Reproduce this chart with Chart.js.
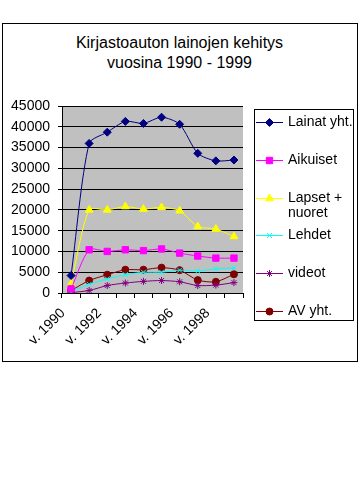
<!DOCTYPE html>
<html>
<head>
<meta charset="utf-8">
<style>
  html, body { margin: 0; padding: 0; background: #fff; }
  #wrap { position: relative; width: 360px; height: 504px; }
  #frame { position: absolute; left: 2px; top: 23px; width: 356px; height: 339px; border: 1px solid #000; box-sizing: border-box; }
  #title { position: absolute; left: 2px; width: 355px; top: 33px; text-align: center; font: 16px "Liberation Sans", Arial, sans-serif; line-height: 20px; color: #000; }
  canvas { position: absolute; left: 0; top: 0; }
</style>
<script src="https://cdn.jsdelivr.net/npm/chart.js"></script>
</head>
<body>
<div id="wrap">
  <div id="frame"></div>
  <div id="title">Kirjastoauton lainojen kehitys<br>vuosina 1990 - 1999</div>
  <canvas id="lainatChart" width="360" height="504"></canvas>
</div>
<script>
// Data
const years = ["v. 1990", "v. 1991", "v. 1992", "v. 1993", "v. 1994", "v. 1995", "v. 1996", "v. 1997", "v. 1998", "v. 1999"]
const seriesNames = ["Lainat yht.", "Aikuiset", "Lapset + nuoret", "Lehdet", "videot", "AV yht."]
const lainatYht = [4200, 36000, 38700, 41300, 40800, 42300, 40600, 33600, 31800, 32000]
const aikuiset = [1000, 10400, 10000, 10400, 10200, 10600, 9600, 8900, 8400, 8400]
const lapsetNuoret = [2200, 20000, 20000, 20800, 20200, 20600, 19800, 16000, 15400, 13600]
const lehdet = [300, 2100, 3400, 4400, 5000, 5000, 5500, 5300, 5800, 6000]
const videot = [100, 600, 1800, 2400, 2800, 3000, 2700, 1800, 1900, 2500]
const avYht = [600, 3000, 4400, 5600, 5600, 6100, 5500, 3100, 2700, 4500]
const yTicks = [0, 5000, 10000, 15000, 20000, 25000, 30000, 35000, 40000, 45000]

const FONT = '"Liberation Sans", Arial, sans-serif'

function makeSet(label, data, color, pointStyle, radius) {
  return {
    label: label,
    data: data,
    borderColor: color,
    backgroundColor: color,
    pointBackgroundColor: color,
    pointBorderColor: color,
    pointStyle: pointStyle,
    pointRadius: radius,
    pointBorderWidth: 1,
    borderWidth: 1,
    tension: 0.25,
  }
}

// gray plot area
const plotBg = {
  id: "plotBg",
  beforeDraw(chart) {
    const a = chart.chartArea
    const ctx = chart.ctx
    ctx.save()
    ctx.fillStyle = "#c0c0c0"
    ctx.fillRect(a.left, a.top, a.right - a.left, a.bottom - a.top)
    ctx.restore()
  },
}

// boxed legend on the right, drawn from the datasets
const legendBox = {
  id: "legendBox",
  afterDraw(chart) {
    const ctx = chart.ctx
    const left = 254, top = 109, right = 353, bottom = 320
    ctx.save()
    ctx.strokeStyle = "#000"
    ctx.lineWidth = 1
    ctx.strokeRect(left + 0.5, top + 0.5, right - left, bottom - top)
    ctx.font = "14px " + FONT
    ctx.textBaseline = "middle"
    chart.data.datasets.forEach((ds, i) => {
      const y = Math.round(top + 13 + i * 37.8) + 0.5
      ctx.strokeStyle = ds.borderColor
      ctx.beginPath()
      ctx.moveTo(256, y)
      ctx.lineTo(283, y)
      ctx.stroke()
      ctx.fillStyle = ds.pointBackgroundColor
      Chart.helpers.drawPoint(ctx, { pointStyle: ds.pointStyle, radius: ds.pointRadius, borderWidth: 1, rotation: 0 }, 269.5, y)
      // wrap long labels
      const words = ds.label.split(" ")
      const lines = []
      let line = ""
      words.forEach((w) => {
        const test = line ? line + " " + w : w
        if (line && ctx.measureText(test).width > 66) {
          lines.push(line)
          line = w
        } else {
          line = test
        }
      })
      lines.push(line)
      ctx.fillStyle = "#000"
      lines.forEach((t, j) => ctx.fillText(t, 288, y + j * 15))
    })
    ctx.restore()
  },
}

new Chart(document.getElementById("lainatChart"), {
  type: "line",
  data: {
    labels: years,
    datasets: [
      makeSet(seriesNames[0], lainatYht, "#000080", "rectRot", 4),
      makeSet(seriesNames[1], aikuiset, "#ff00ff", "rect", 4.5),
      makeSet(seriesNames[2], lapsetNuoret, "#ffff00", "triangle", 4.5),
      makeSet(seriesNames[3], lehdet, "#00ffff", "crossRot", 3.5),
      makeSet(seriesNames[4], videot, "#800080", "star", 3.5),
      makeSet(seriesNames[5], avYht, "#800000", "circle", 3.5),
    ],
  },
  options: {
    responsive: false,
    animation: false,
    layout: { padding: { left: 0, top: 106, right: 117, bottom: 151 } },
    plugins: {
      legend: { display: false },
      tooltip: { enabled: false },
    },
    scales: {
      x: {
        offset: true,
        afterFit: (scale) => { scale.height = 60 },
        grid: { offset: true, drawOnChartArea: false, drawTicks: true, tickLength: 5, color: "#000" },
        border: { display: true, color: "#000", width: 1 },
        ticks: {
          autoSkip: false,
          minRotation: 45,
          maxRotation: 45,
          padding: 7,
          labelOffset: -8,
          color: "#000",
          font: { family: FONT, size: 14 },
          callback: (val, idx) => (idx % 2 === 0 ? years[idx] : ""),
        },
      },
      y: {
        min: yTicks[0],
        max: yTicks[yTicks.length - 1],
        afterFit: (scale) => { scale.width = 62 },
        afterBuildTicks: (scale) => { scale.ticks = yTicks.map((v) => ({ value: v })) },
        grid: { color: "#000", lineWidth: 1, tickLength: 4 },
        border: { display: true, color: "#000", width: 1 },
        ticks: {
          padding: 8,
          color: "#000",
          font: { family: FONT, size: 14 },
          callback: (v) => String(v),
        },
      },
    },
  },
  plugins: [plotBg, legendBox],
})
</script>
</body>
</html>
